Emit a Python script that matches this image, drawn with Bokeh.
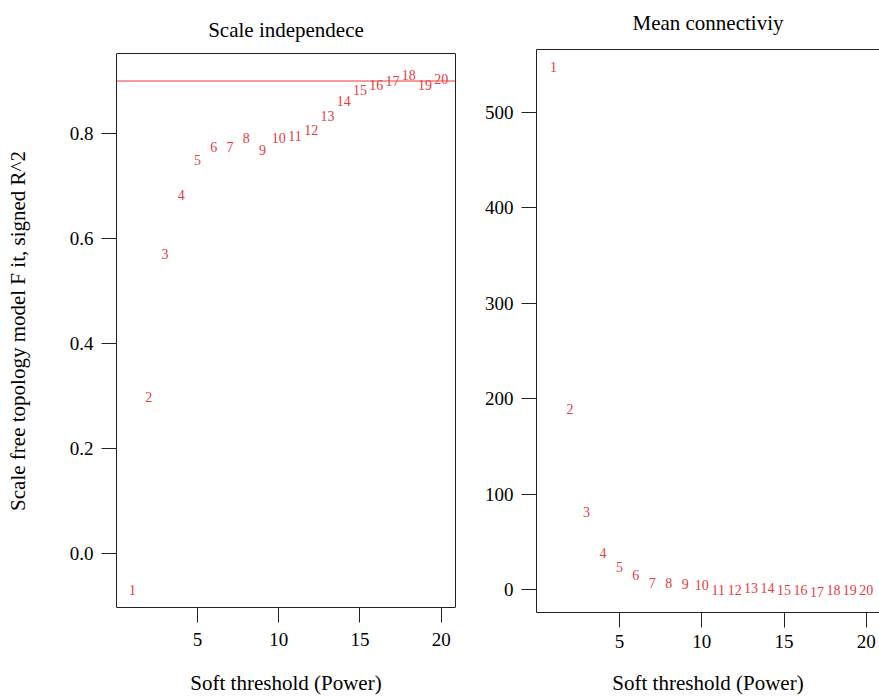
from bokeh.plotting import figure
from bokeh.layouts import row
from bokeh.models import (ColumnDataSource, Span, FixedTicker, Range1d,
                          PrintfTickFormatter, LinearAxis)
from bokeh.core.properties import value
from bokeh.embed import file_html
from bokeh.resources import INLINE

# ---- data ----
powers = list(range(1, 21))
power_labels = [str(v) for v in powers]
fit_r2 = [-0.070, 0.299, 0.571, 0.683, 0.750, 0.775, 0.775, 0.792, 0.769, 0.792,
          0.796, 0.807, 0.834, 0.862, 0.882, 0.893, 0.900, 0.912, 0.893, 0.904]
mean_k = [548, 189, 81.4, 38.1, 23.8, 15.4, 7.3, 7.3, 5.6, 4.9,
          -0.3, -0.3, 1.4, 1.4, -0.3, -0.3, -3.1, -0.3, -0.3, -0.3]
r2_cutoff = 0.90
x_ticks = [5, 10, 15, 20]
r2_ticks = [0.0, 0.2, 0.4, 0.6, 0.8]
k_ticks = [0, 100, 200, 300, 400, 500]

FONT = "Liberation Serif"
RED = "#EA3A3F"
LINE = "#222222"
H = 697
FRAME_TOP, FRAME_BOT = 49, 612      # shared (aligned) frame of both panels
BOX1_TOP, BOX1_BOT = 53, 607        # drawn box of the left panel


def style_axis(ax):
    ax.major_tick_out = 15
    ax.major_tick_in = 0
    ax.minor_tick_line_color = None
    ax.major_tick_line_color = LINE
    ax.axis_line_color = LINE
    ax.major_label_text_font = FONT
    ax.major_label_text_font_size = "19px"
    ax.major_label_text_color = "black"
    ax.axis_label_text_font = FONT
    ax.axis_label_text_font_size = "21px"
    ax.axis_label_text_font_style = "normal"
    ax.axis_label_text_color = "black"


def title_axis(text, standoff, line_color):
    ax = LinearAxis(ticker=FixedTicker(ticks=[]), major_label_text_font_size="0px",
                    major_tick_out=0, major_tick_in=0, major_label_standoff=0,
                    minor_tick_line_color=None, axis_line_color=line_color,
                    axis_label=text, axis_label_standoff=standoff,
                    axis_label_text_font=FONT, axis_label_text_font_size="21px",
                    axis_label_text_font_style="normal", axis_label_text_color="black")
    return ax


def base_fig(width, xr, yr, mb):
    p = figure(width=width, height=H, output_backend="svg", toolbar_location=None,
               x_range=Range1d(*xr), y_range=Range1d(*yr),
               min_border_left=mb[0], min_border_right=mb[1],
               min_border_top=FRAME_TOP, min_border_bottom=H - FRAME_BOT)
    p.background_fill_color = "white"
    p.border_fill_color = "white"
    p.outline_line_color = None
    p.xgrid.visible = False
    p.ygrid.visible = False
    return p


# ---- left panel: scale independence ----
xr1, yr1 = (0.02, 20.88), (-0.1029, 0.9524)
s1 = (BOX1_BOT - BOX1_TOP) / (yr1[1] - yr1[0])
yr1_frame = (yr1[0] - (FRAME_BOT - BOX1_BOT) / s1, yr1[1] + (BOX1_TOP - FRAME_TOP) / s1)
src1 = ColumnDataSource(dict(x=powers, y=fit_r2, lab=power_labels))
p1 = base_fig(478, xr1, yr1_frame, (116, 23))
p1.xaxis.ticker = FixedTicker(ticks=x_ticks)
p1.yaxis.ticker = FixedTicker(ticks=r2_ticks)
p1.yaxis.formatter = PrintfTickFormatter(format="%.1f")
p1.yaxis.axis_label = "Scale free topology model F it, signed R^2"
p1.xaxis.axis_label = "Soft threshold (Power)"
for ax in p1.xaxis + p1.yaxis:
    style_axis(ax)
p1.yaxis.bounds = yr1
p1.xaxis.axis_line_color = None
p1.xaxis.major_tick_in = FRAME_BOT - BOX1_BOT
p1.xaxis.major_tick_out = 15 - (FRAME_BOT - BOX1_BOT)
p1.xaxis.major_label_standoff = 10
p1.xaxis.axis_label_standoff = 22
p1.yaxis.major_label_standoff = 8
p1.yaxis.axis_label_standoff = 37
right1 = LinearAxis(ticker=FixedTicker(ticks=[]), major_label_text_font_size="0px",
                    major_tick_out=0, major_tick_in=0, major_label_standoff=0,
                    minor_tick_line_color=None, axis_line_color=LINE, bounds=yr1)
p1.add_layout(right1, "right")
p1.add_layout(title_axis("Scale independece", 8, None), "above")
p1.add_layout(Span(location=yr1[1], dimension="width", line_color=LINE, line_width=1))
p1.add_layout(Span(location=yr1[0], dimension="width", line_color=LINE, line_width=1))
p1.add_layout(Span(location=r2_cutoff, dimension="width", line_color=RED, line_width=1))
p1.text(x="x", y="y", text="lab", source=src1, text_align="center", text_baseline="middle",
        text_color=RED, text_font=value(FONT), text_font_size="14px")

# ---- right panel: mean connectivity ----
xr2, yr2 = (-0.036, 20.8), (-24.1, 566)
src2 = ColumnDataSource(dict(x=powers, y=mean_k, lab=power_labels))
p2 = base_fig(401, xr2, yr2, (58, 0))
p2.xaxis.ticker = FixedTicker(ticks=x_ticks)
p2.yaxis.ticker = FixedTicker(ticks=k_ticks)
p2.xaxis.axis_label = "Soft threshold (Power)"
for ax in p2.xaxis + p2.yaxis:
    style_axis(ax)
p2.xaxis.major_label_standoff = 7
p2.xaxis.axis_label_standoff = 20
p2.yaxis.major_label_standoff = 8
p2.add_layout(title_axis("Mean connectiviy", 15, LINE), "above")
p2.text(x="x", y="y", text="lab", source=src2, text_align="center", text_baseline="middle",
        text_color=RED, text_font=value(FONT), text_font_size="14px")

layout = row(p1, p2, spacing=0)
open("out.html", "w").write(file_html(layout, INLINE))
